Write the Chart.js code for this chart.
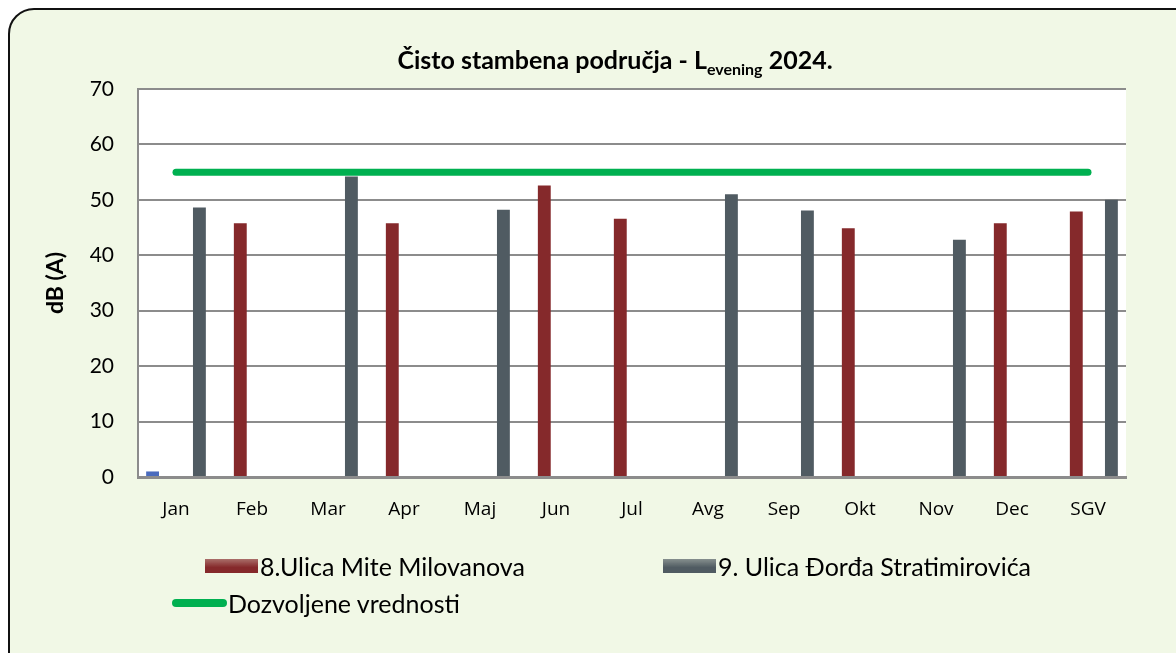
<!DOCTYPE html>
<html>
<head>
<meta charset="utf-8">
<script src="https://cdn.jsdelivr.net/npm/chart.js@4"></script>
<style>
  html, body { margin: 0; padding: 0; background: #fff; overflow: hidden; }
  #wrap { position: relative; width: 1176px; height: 653px; overflow: hidden; }
  #frame {
    position: absolute; left: 8px; top: 8px; width: 1190px; height: 690px;
    border: 2px solid #111; border-radius: 26px; background: #f1f8e6;
  }
  #chart { position: absolute; left: 0; top: 0; }
  #title {
    position: absolute; top: 44px; left: 0; width: 1176px; padding-left: 54px; box-sizing: border-box;
    text-align: center; font: bold 25px Lato, sans-serif; color: #000;
  }
  #title sub { font-size: 16px; vertical-align: -6px; line-height: 0; }
  .lg { position: absolute; font: 25px Lato, sans-serif; color: #000; white-space: nowrap; line-height: 1; }
  .sw { position: absolute; }
</style>
</head>
<body>
<div id="wrap">
  <div id="frame"></div>
  <canvas id="chart" width="1176" height="653"></canvas>
  <div id="title">Čisto stambena područja - L<sub>evening</sub> 2024.</div>
  <div id="legend"></div>
</div>
<script>
document.addEventListener("DOMContentLoaded", () => {
  const labels = ["Jan", "Feb", "Mar", "Apr", "Maj", "Jun", "Jul", "Avg", "Sep", "Okt", "Nov", "Dec", "SGV"];
  const ostalo = [1, null, null, null, null, null, null, null, null, null, null, null, null];
  const miteMilovanova = [null, 45.8, null, 45.8, null, 52.6, 46.6, null, null, 44.9, null, 45.8, 47.9];
  const stratimirovica = [48.6, null, 54.2, null, 48.2, null, null, 51.0, 48.1, null, 42.8, null, 50.0];
  const dozvoljene = [55, 55, 55, 55, 55, 55, 55, 55, 55, 55, 55, 55, 55];
  const yTicks = [0, 10, 20, 30, 40, 50, 60, 70];

  const RED = "#85292b";
  const GRAY = "#505b62";
  const GREEN = "#00b050";

  // white plot area
  const plotBg = {
    id: "plotBg",
    beforeDraw(chart) {
      const { ctx, chartArea: a } = chart;
      ctx.save();
      ctx.fillStyle = "#ffffff";
      ctx.fillRect(a.left, a.top, a.right - a.left, a.bottom - a.top);
      ctx.restore();
    },
  };

  new Chart(document.getElementById("chart"), {
    type: "bar",
    data: {
      labels: labels,
      datasets: [
        { label: "", data: ostalo, backgroundColor: "#4a6bbd" },
        { label: "8.Ulica Mite Milovanova", data: miteMilovanova, backgroundColor: RED },
        { label: "", data: [], backgroundColor: "#999" },
        { label: "", data: [], backgroundColor: "#999" },
        { label: "9. Ulica Đorđa Stratimirovića", data: stratimirovica, backgroundColor: GRAY },
        {
          type: "line",
          label: "Dozvoljene vrednosti",
          data: dozvoljene,
          borderColor: GREEN,
          borderWidth: 7,
          borderCapStyle: "round",
          pointRadius: 0,
          fill: false,
        },
      ],
    },
    options: {
      responsive: false,
      animation: false,
      categoryPercentage: 0.77,
      barPercentage: 1.1,
      layout: { padding: { left: 40, top: 89, right: 50, bottom: 126 } },
      scales: {
        x: {
          grid: { display: false, drawTicks: false },
          border: { color: "#8c8c8c", width: 3 },
          ticks: { color: "#000", font: { family: "Open Sans", size: 19 }, padding: 21 },
          afterFit: (s) => { s.height = 50; },
        },
        y: {
          min: 0,
          max: 70,
          afterBuildTicks: (s) => { s.ticks = yTicks.map((v) => ({ value: v })); },
          grid: { color: "#8c8c8c", lineWidth: 2, drawTicks: false },
          border: { color: "#8c8c8c", width: 2 },
          ticks: { color: "#000", font: { family: "Lato", size: 21 }, padding: 24 },
          title: {
            display: true,
            text: "dB (A)",
            color: "#000",
            font: { family: "Lato", size: 23, weight: "bold" },
            padding: { top: 2, bottom: 0 },
          },
          afterFit: (s) => { s.width = 98; },
        },
      },
      plugins: {
        legend: { display: false },
        tooltip: { enabled: false },
      },
    },
    plugins: [plotBg],
  });

  // legend as html
  const legend = document.getElementById("legend");
  const items = [
    { text: "8.Ulica Mite Milovanova", color: RED, x: 205, y: 566, kind: "bar" },
    { text: "9. Ulica Đorđa Stratimirovića", color: GRAY, x: 663, y: 566, kind: "bar" },
    { text: "Dozvoljene vrednosti", color: GREEN, x: 172, y: 603, kind: "line" },
  ];
  items.forEach((it) => {
    const sw = document.createElement("div");
    sw.className = "sw";
    if (it.kind === "bar") {
      Object.assign(sw.style, {
        left: it.x + "px", top: it.y - 7 + "px", width: "53px", height: "14px",
        background: "linear-gradient(to bottom, " + it.color + "aa, " + it.color + " 60%)",
      });
    } else {
      Object.assign(sw.style, { left: it.x + "px", top: it.y - 4 + "px", width: "55px", height: "8px", background: it.color, borderRadius: "4px" });
    }
    legend.appendChild(sw);
    const t = document.createElement("div");
    t.className = "lg";
    t.textContent = it.text;
    t.style.left = it.x + (it.kind === "bar" ? 55 : 56) + "px";
    t.style.top = it.y - 12 + "px";
    legend.appendChild(t);
  });
});
</script>
</body>
</html>
